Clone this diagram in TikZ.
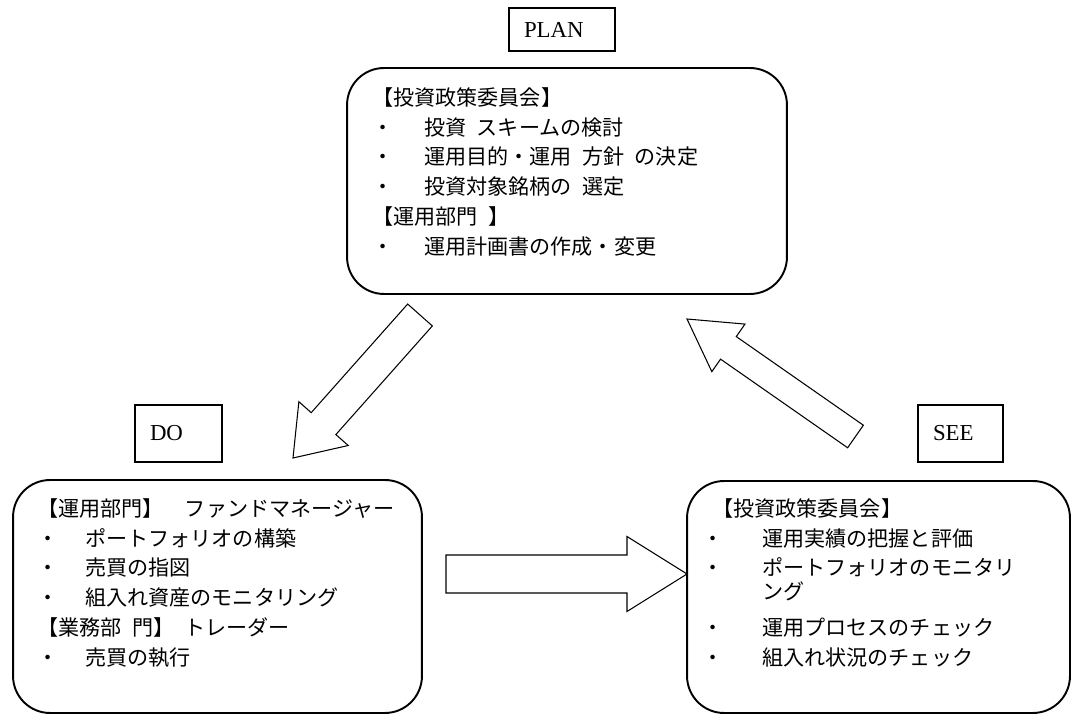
\documentclass[tikz,border=0pt]{standalone}
\usepackage{fontspec}
\newfontfamily\jpfont[WordSpace=2.2]{Noto Sans CJK JP}
\newfontfamily\lblfont{Liberation Serif}
\usetikzlibrary{calc}
\tikzset{
  >=latex,
}
\tikzstyle{panel}=[draw,line width=1.1pt,rounded corners=0.74cm,inner sep=0pt]
\tikzstyle{phase}=[draw,line width=0.8pt,font=\lblfont\fontsize{13pt}{15pt}\selectfont,
  align=left,inner xsep=0.3cm,inner ysep=0pt,minimum height=1.14cm]
\tikzstyle{memo}=[font=\jpfont\fontsize{12pt}{17pt}\selectfont,align=left,
  anchor=north west,inner sep=0pt]
\tikzstyle{blockarr}=[draw,line width=0.6pt,line join=miter]
\newcommand{\itm}[2][1.04cm]{\makebox[#1][l]{・}#2}
\newcommand{\blockarrow}[5]{%
  \coordinate (#2-base) at ($(#2)!#5!(#1)$);
  \draw[blockarr] ($(#1)!#3!90:(#2)$) -- ($(#2-base)!#3!90:(#2)$)
    -- ($(#2-base)!#4!90:(#2)$) -- (#2) -- ($(#2-base)!#4!-90:(#2)$)
    -- ($(#2-base)!#3!-90:(#2)$) -- ($(#1)!#3!-90:(#2)$) -- cycle;}

\begin{document}
\begin{tikzpicture}[x=0.02cm,y=-0.02cm]
    \useasboundingbox (0,0) rectangle (1072,715);
    \node[panel,minimum width=8.8cm,minimum height=4.52cm] (plan) at (567,181) {};
    \node[panel,minimum width=8.18cm,minimum height=4.66cm] (do) at (217.5,596.5) {};
    \node[panel,minimum width=7.66cm,minimum height=4.64cm] (see) at (878.5,597) {};
    \node[phase,text width=1.52cm,minimum height=0.86cm] (planlbl) at (562,29.5) {PLAN};
    \node[phase,text width=1.14cm] (dolbl) at (178.5,433.5) {DO};
    \node[phase,text width=1.1cm] (seelbl) at (960.5,433.5) {SEE};
    \node[memo] (plantext) at (372,87) {【投資政策委員会】\\
      \itm{投資 スキームの検討}\\
      \itm{運用目的・運用 方針 の決定}\\
      \itm{投資対象銘柄の 選定}\\
      【運用部門 】\\
      \itm{運用計画書の作成・変更}};
    \node[memo] (dotext) at (37,498) {【運用部門】　ファンドマネージャー\\
      \itm[0.96cm]{ポートフォリオの構築}\\
      \itm[0.96cm]{売買の指図}\\
      \itm[0.96cm]{組入れ資産のモニタリング}\\
      【業務部 門】 トレーダー\\
      \itm[0.96cm]{売買の執行}};
    \node[memo] (seetext) at (702,498) {\hspace*{0.2cm}【投資政策委員会】\\
      \itm[1.2cm]{運用実績の把握と評価}\\
      \itm[1.2cm]{ポートフォリオのモニタリ}\\[-3.4pt]
      \hspace*{1.2cm}ング\\[3.4pt]
      \itm[1.2cm]{運用プロセスのチェック}\\
      \itm[1.2cm]{組入れ状況のチェック}};
    \coordinate (pd-s) at (420,315);
    \coordinate (pd-e) at (293,458);
    \coordinate (ds-s) at (446,574);
    \coordinate (ds-e) at (687,574);
    \coordinate (sp-s) at (855.5,436.5);
    \coordinate (sp-e) at (687,319);
    \blockarrow{pd-s}{pd-e}{0.33cm}{0.66cm}{0.92cm}
    \blockarrow{ds-s}{ds-e}{0.38cm}{0.75cm}{1.2cm}
    \blockarrow{sp-s}{sp-e}{0.275cm}{0.58cm}{1.01cm}
\end{tikzpicture}
\end{document}
